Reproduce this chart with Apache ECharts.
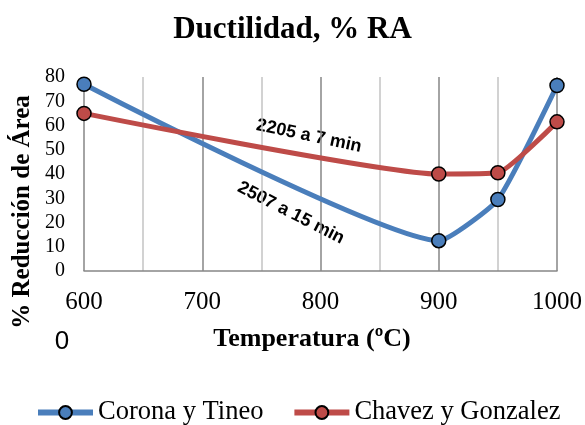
<!DOCTYPE html>
<html>
<head>
<meta charset="utf-8">
<script src="https://cdn.jsdelivr.net/npm/echarts@6/dist/echarts.min.js"></script>
<style>
  html, body { margin: 0; padding: 0; background: #fff; }
  #chart { width: 585px; height: 425px; }
</style>
</head>
<body>
<div id="chart"></div>
<script>
// Temperatures (ºC) where ductility was measured
const temperatures = [600, 900, 950, 1000];
// % reduction of area for each study
const coronaTineo = [77, 12.5, 29.5, 76.5];
const chavezGonzalez = [65, 40, 40.5, 61.5];
const seriesNames = ['Corona y Tineo', 'Chavez y Gonzalez'];
const xTicks = [600, 700, 800, 900, 1000];
const yTicks = [0, 10, 20, 30, 40, 50, 60, 70, 80];

const serif = '"Liberation Serif", "Times New Roman", serif';
const sans = '"Liberation Sans", Arial, sans-serif';

const chart = echarts.init(document.getElementById('chart'), null, { renderer: 'canvas' });

function pairs(ys) {
  return temperatures.map((t, i) => [t, ys[i]]);
}

function lineSeries(name, values, color) {
  return {
    name: name,
    type: 'line',
    data: pairs(values),
    smooth: 0.15,
    symbol: 'circle',
    symbolSize: 14,
    lineStyle: { color: color, width: 5 },
    itemStyle: { color: color, borderColor: '#000', borderWidth: 1.5 },
    emphasis: { disabled: true },
    z: 3
  };
}

// Free-standing text: axis titles, curve captions and the stray "0"
function label(text, x, y, font, rotationDeg) {
  return {
    type: 'text',
    x: x, y: y,
    rotation: (rotationDeg || 0) * Math.PI / 180,
    style: { text: text, font: font, fill: '#000', align: 'center', verticalAlign: 'middle' },
    silent: true
  };
}

chart.setOption({
  animation: false,
  backgroundColor: '#fff',
  title: {
    text: 'Ductilidad, % RA',
    left: 'center',
    top: 9,
    textStyle: { fontFamily: serif, fontWeight: 'bold', fontSize: 31, color: '#000' }
  },
  grid: { left: 84, right: 28, top: 77, bottom: 154 },
  legend: {
    left: 35,
    top: 399,
    padding: 0,
    itemWidth: 55,
    itemHeight: 16,
    itemGap: 28,
    lineStyle: { width: 6 },
    textStyle: { fontFamily: serif, fontSize: 26.5, color: '#000' },
    data: seriesNames
  },
  xAxis: {
    type: 'value',
    min: xTicks[0],
    max: xTicks[xTicks.length - 1],
    interval: 100,
    axisLine: { show: true, lineStyle: { color: '#868686', width: 1.5 } },
    axisTick: { show: false },
    minorTick: { show: false, splitNumber: 2 },
    axisLabel: {
      fontFamily: serif, fontSize: 25, color: '#000', margin: 19,
      formatter: v => String(v)
    },
    splitLine: { show: true, lineStyle: { color: '#868686', width: 1.5 } },
    minorSplitLine: { show: true, lineStyle: { color: '#c4c4c4', width: 1.5 } }
  },
  yAxis: {
    type: 'value',
    min: yTicks[0],
    max: yTicks[yTicks.length - 1],
    interval: 10,
    axisLine: { show: false },
    axisTick: { show: false },
    splitLine: { show: false },
    axisLabel: { fontFamily: serif, fontSize: 20, color: '#000', margin: 19 }
  },
  graphic: [
    label('% Reducción de Área', 23, 212, 'bold 25px ' + serif, 90),
    label('Temperatura (ºC)', 312, 339, 'bold 26px ' + serif),
    label('0', 62, 342, '26px ' + sans),
    label('2205 a 7 min', 309, 136, 'bold 18px ' + sans, -12),
    label('2507 a 15 min', 291, 213, 'bold 18px ' + sans, -27)
  ],
  series: [
    lineSeries(seriesNames[0], coronaTineo, '#4a7ebb'),
    lineSeries(seriesNames[1], chavezGonzalez, '#be4b48')
  ]
});
</script>
</body>
</html>
